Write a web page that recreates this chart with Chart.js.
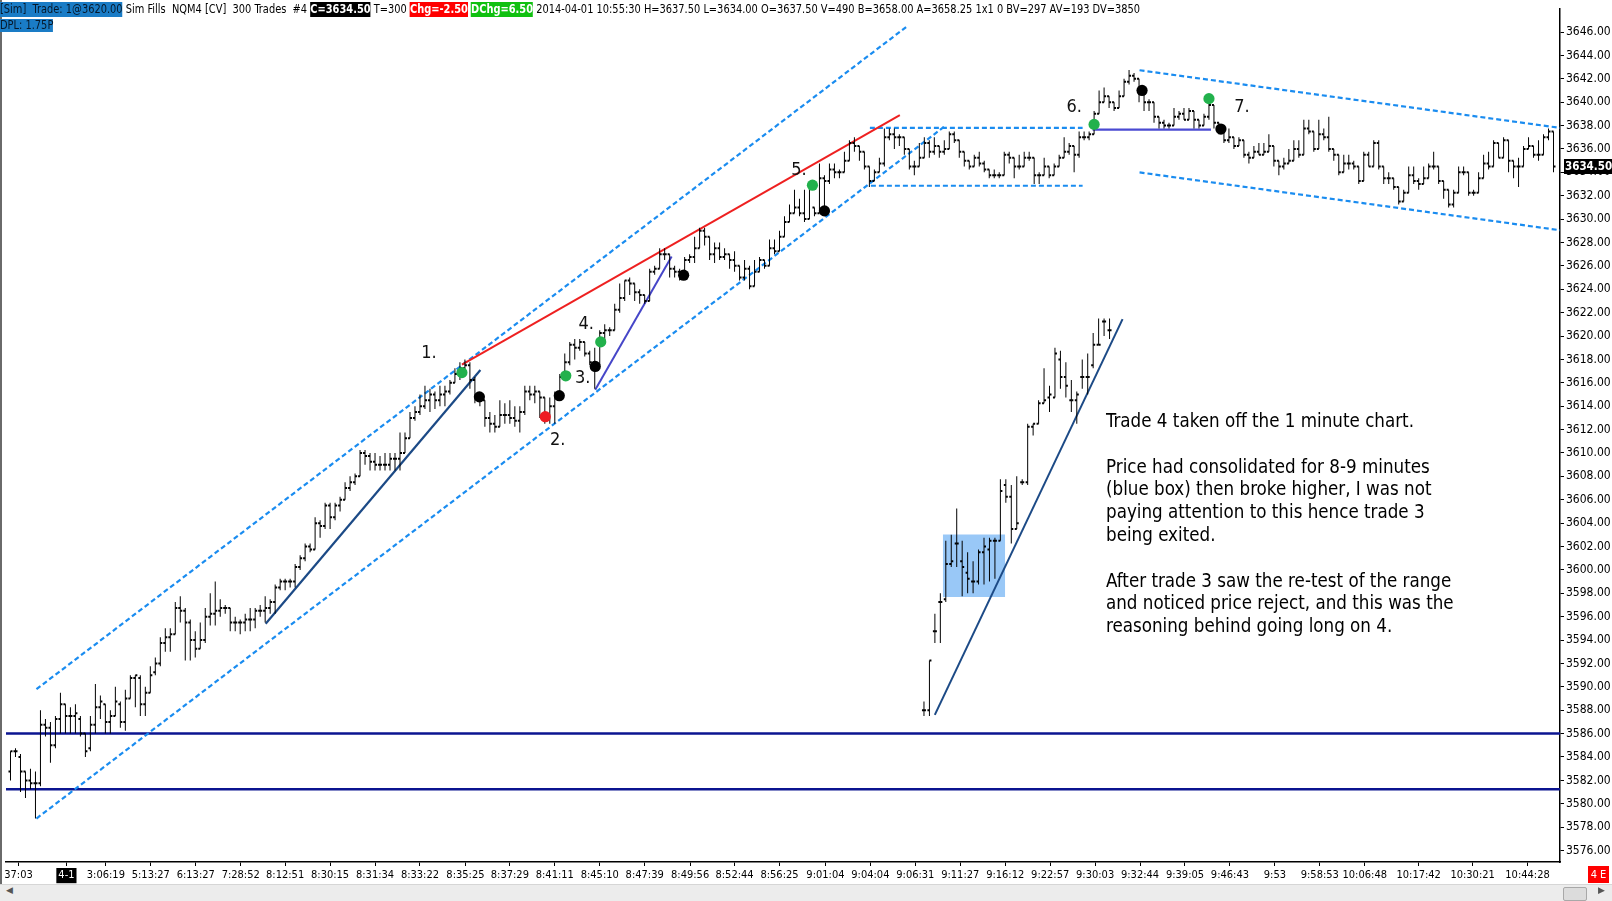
<!DOCTYPE html>
<html><head><meta charset="utf-8">
<script src="https://cdn.jsdelivr.net/npm/chart.js@4.4.1/dist/chart.umd.min.js"></script>
<style>
html,body{margin:0;padding:0;background:#fff;overflow:hidden}
#wrap{position:relative;width:1612px;height:901px;background:#fff}
#c{position:absolute;left:0;top:0}
.hdr{position:absolute;left:0;white-space:pre;font-family:"DejaVu Sans Condensed","Liberation Sans Narrow","DejaVu Sans",sans-serif;font-size:12px;color:#000;transform-origin:0 0}
.hdr span{display:inline-block}
.bl{background:#1a7cc6;color:#06182a}
.bk{background:#000;color:#fff;font-weight:bold}
.rd{background:#ff0000;color:#fff;font-weight:bold}
.gn{background:#10c010;color:#fff;font-weight:bold}
#note{position:absolute;left:1106px;top:410px;white-space:pre;font-family:"DejaVu Sans Condensed","DejaVu Sans",sans-serif;font-size:17px;line-height:22.8px;color:#000}
#lborder{position:absolute;left:0;top:0;width:2px;height:884px;background:#6a6a6a}
#sbar{position:absolute;left:0;top:884px;width:1612px;height:17px;background:#ececec;border-top:1px solid #d6d6d6;box-sizing:border-box}
#thumb{position:absolute;left:1563px;top:2px;width:22px;height:12px;background:#dcdcdc;border:1px solid #a8a8a8;border-radius:2px}
.arr{position:absolute;top:0px;font-family:"DejaVu Sans",sans-serif;font-size:9px;color:#555}
#eb{position:absolute;left:1588px;top:866px;width:21px;height:17px;background:#ff0000;color:#fff;font-family:"DejaVu Sans Condensed","DejaVu Sans",sans-serif;font-size:11px;line-height:17px;text-align:center}
</style></head><body>
<div id="wrap">
<canvas id="c" width="1612" height="901"></canvas>
<div id="lborder"></div>
<div class="hdr" id="h1" style="top:2px;line-height:15px"><span class="bl">[Sim]  Trade: 1@3620.00</span> Sim Fills  NQM4 [CV]  300 Trades  #4 <span class="bk">C=3634.50</span> T=300 <span class="rd">Chg=-2.50</span> <span class="gn">DChg=6.50</span> 2014-04-01 10:55:30 H=3637.50 L=3634.00 O=3637.50 V=490 B=3658.00 A=3658.25 1x1 0 BV=297 AV=193 DV=3850</div>
<div class="hdr" id="h2" style="top:19px;line-height:13px"><span class="bl">DPL: 1.75P</span></div>
<div id="note">Trade 4 taken off the 1 minute chart.

Price had consolidated for 8-9 minutes
(blue box) then broke higher, I was not
paying attention to this hence trade 3
being exited.

After trade 3 saw the re-test of the range
and noticed price reject, and this was the
reasoning behind going long on 4.</div>
<div id="sbar"><span class="arr" style="left:6px">&#9664;</span><div id="thumb"></div><span class="arr" style="left:1598px">&#9654;</span></div>
<div id="eb">4 E</div>
</div>
<script>
// ---------- DATA ----------
const opens = [
3582.75,3584.5,3584,3582.75,3582,3581.75,3581.75,3586.75,3586.5,3585,
3587.25,3588.5,3587.5,3587.5,3587.25,3586,3584.75,3586.75,3588.25,3588.5,
3587,3587.5,3588.5,3587,3589,3590.75,3590.75,3588.5,3589.5,3591.25,
3592,3593.75,3594.25,3594.5,3596.75,3596.5,3595.5,3594,3593.25,3594,
3596,3596.25,3596.5,3596.75,3596.75,3595.5,3595.5,3595.5,3595.75,3595.75,
3596.5,3596.5,3596.75,3597.25,3598.5,3599,3599,3599,3600.25,3601,
3602,3601.75,3604,3603.75,3605.5,3604.5,3605.5,3606,3607,3607.5,
3608,3610,3609.75,3609.25,3609,3609,3609,3609.5,3609.5,3610,
3611.25,3613,3613.5,3614,3614.5,3615,3614.5,3615,3615.25,3616,
3616.75,3617.25,3617.5,3616.25,3614.75,3614.5,3613,3612.5,3612.25,3613.25,
3613.25,3613,3612.75,3613.5,3615.25,3615,3615.25,3614.75,3613,3614,
3615,3616.5,3617.75,3619.25,3619,3619.5,3618.5,3617.75,3617.5,3620.25,
3620.5,3620.5,3622.25,3623.25,3624.75,3624.5,3623.75,3623.5,3623,3625.5,
3625.75,3627,3627,3625.75,3625.5,3625.25,3626.5,3626.75,3627.5,3629,
3628.5,3627,3627.5,3626.75,3627,3626.5,3626,3625,3625.75,3624.25,
3625.5,3626.5,3626,3627.5,3627.25,3628.5,3629.75,3630.5,3631,3630.5,
3630,3631,3630.5,3633.5,3633.25,3634.25,3634,3634,3635,3636.5,
3636.25,3635.75,3634.5,3633.25,3634,3634.75,3637,3637.25,3637,3637,
3636,3634.5,3634.5,3635.25,3636.5,3635.75,3636.25,3635.75,3636,3637.25,
3636.75,3635.75,3635,3634.5,3635.25,3634.75,3634.25,3633.75,3633.75,3633.75,
3635.5,3635.25,3634.5,3634.5,3635.25,3635.25,3633.75,3633.75,3634.5,3633.75,
3634.5,3635.25,3635.75,3636.25,3635.5,3637,3637,3637.25,3639,3640,
3640.5,3640,3639.5,3640.5,3641.75,3642.25,3642,3641,3640,3640,
3638.75,3638.25,3638,3638,3638.75,3639,3638.5,3639.25,3638.5,3638,
3638.75,3639.75,3638.25,3637.75,3636.75,3637,3636.25,3636.75,3635.5,3635.25,
3635.75,3635.5,3635.75,3636.25,3635,3634.5,3634.75,3635,3636,3635.5,
3637.75,3637.5,3636,3637.25,3637,3636,3635.5,3634,3634.75,3634.75,
3634.5,3633.25,3635.5,3634.5,3636.5,3634.5,3633.5,3633.5,3632.75,3631.5,
3632.25,3633.75,3633.25,3633,3633.5,3634.5,3634.5,3633.25,3632.5,3631.25,
3632.25,3634,3634,3632.25,3632.25,3633.5,3634.75,3634.5,3636.5,3635.25,
3636.75,3635,3634.5,3634.5,3636,3636.25,3635.5,3635.5,3637,3637.5];
const highs = [
3584.5,3584.75,3584.25,3582.75,3583,3582.75,3588,3587.25,3587,3587.5,
3589.5,3588.5,3588.25,3588.5,3587.5,3586,3587.5,3590.25,3589.25,3588.5,
3588,3590,3588.75,3589.75,3591,3591,3591,3590,3591.75,3592.5,
3594.25,3595,3595,3597.25,3597.75,3596.75,3595.75,3594.75,3595.5,3596.75,
3598,3599,3597.5,3597,3596.75,3596,3595.75,3596.25,3596.75,3596.75,
3597,3597.75,3597.5,3598.75,3599.25,3599.25,3599.25,3600.5,3601.25,3602.25,
3602.25,3604.5,3604.25,3605.75,3605.75,3605.75,3606.25,3607.5,3608,3608.25,
3610.25,3610.25,3610,3610,3609.75,3610,3610,3610,3611.75,3611.75,
3613.5,3614,3615,3615.75,3615.5,3615.25,3615.75,3615.75,3616.25,3617.25,
3617.75,3618,3617.75,3616.5,3615,3614.5,3613.5,3613.25,3614.5,3614.25,
3614.5,3614,3614,3615.75,3615.75,3615.75,3615.25,3614.75,3614.75,3615.25,
3616.75,3618.5,3619.5,3619.75,3619.75,3619.5,3618.75,3619,3620.5,3621,
3620.75,3622.75,3624.5,3624.75,3625,3624.5,3624,3623.5,3625.75,3626,
3627.5,3627.5,3627,3626,3625.75,3626.75,3627,3628.5,3629.25,3629.25,
3628.5,3628,3628,3627.5,3627,3627.25,3626,3626.5,3626,3626.5,
3626.75,3626.5,3628.25,3628.25,3629,3630.25,3631.25,3632.5,3631.75,3632.5,
3633,3631,3634.75,3633.75,3634.75,3634.75,3634.25,3635.75,3636.75,3637,
3636.25,3635.75,3634.5,3634.25,3635.25,3637.75,3637.75,3637.75,3637.25,3637,
3636,3635,3636.5,3637,3636.75,3637,3636.25,3636.75,3637.5,3637.5,
3636.75,3635.75,3635,3635.5,3635.75,3635,3634.25,3634.25,3634,3635.75,
3635.75,3635.25,3635.5,3635.75,3635.75,3635.25,3634,3635.25,3634.5,3634.75,
3635.5,3637,3636.5,3636.25,3637.5,3637.5,3637.5,3639.25,3641,3641.25,
3640.5,3640,3641,3642,3642.75,3642.5,3642,3641,3640.25,3640,
3638.75,3638.5,3638.25,3639.5,3639.25,3639.5,3639.5,3639.25,3638.5,3639,
3640.25,3639.75,3638.25,3637.75,3637.75,3637,3637,3636.75,3635.75,3636.25,
3636.5,3636.5,3637.25,3636.25,3635,3635.25,3636,3636.75,3636.75,3638.5,
3638.5,3637.5,3638.5,3637.75,3638.75,3636,3635.5,3635.5,3635.5,3635,
3634.5,3635.75,3635.75,3636.75,3636.75,3634.5,3634,3633.5,3632.75,3632.5,
3634.5,3634.5,3633.5,3634.5,3634.75,3635.75,3634.5,3633.25,3632.5,3632.5,
3634.5,3634.5,3634,3632.5,3634,3635.5,3635.75,3636.75,3636.5,3637,
3636.75,3635,3635.25,3636.25,3637,3636.25,3636.75,3637.25,3637.75,3637.5];
const lows = [
3582,3584,3581,3580.5,3581.25,3578.75,3581.5,3585.75,3583.5,3584.75,
3586,3586,3586,3586,3585.75,3584,3584.5,3586,3587.25,3586,
3586,3587.5,3586.5,3586.25,3589,3588.25,3587.5,3587.5,3589.5,3591,
3591.75,3593,3593,3594.5,3595.5,3592.25,3592.25,3592.5,3593.25,3593.75,
3595.25,3595.25,3596,3596.25,3594.75,3594.75,3594.5,3594.75,3594.75,3595,
3596,3595.5,3596.25,3596.25,3598.25,3598.25,3598.5,3598.5,3600,3600.75,
3601.5,3601.75,3602.75,3603.5,3603.5,3604.25,3605,3606,3606.75,3607.25,
3608,3609,3608.5,3608.5,3608.5,3608.5,3608.5,3608.5,3608.5,3610,
3611.25,3612.75,3613.25,3613.75,3613.5,3613.75,3614,3614,3615,3616,
3616.25,3617,3615.5,3614.25,3614,3612.25,3611.75,3611.75,3612.25,3612.5,
3612.5,3612.25,3611.75,3613.25,3614.5,3614.25,3613,3612.5,3612.5,3612.5,
3614.5,3616.25,3617.5,3618,3618.75,3618.25,3617.5,3615.5,3617.5,3619.5,
3620,3620.5,3622,3623,3623.5,3623,3622.75,3622.75,3623,3625.25,
3625.75,3626.5,3625,3625,3624.75,3625,3626.25,3626.25,3627.5,3627.75,
3626.5,3626.25,3626.5,3626.5,3625.75,3625.5,3624.75,3624.75,3624,3624.25,
3625.5,3625.75,3626,3627,3627.25,3628.5,3629.75,3630.5,3630.25,3629.75,
3630,3630.25,3630.5,3630.75,3633,3633.5,3633.5,3634,3635,3635.75,
3635,3634.25,3632.75,3633.25,3634,3634.5,3636.75,3636,3636.25,3635.5,
3634.25,3633.75,3634.5,3635.25,3635.25,3635.5,3635.25,3635.5,3636,3636.5,
3635.25,3634.5,3634.25,3634.5,3634.5,3634,3633.5,3633.5,3633.5,3633.75,
3634.75,3633.5,3634.25,3634.5,3635,3633,3633,3633.75,3633.5,3633.75,
3634.5,3635.25,3635.5,3634,3635.25,3636.75,3636.75,3637.25,3639,3640,
3639.5,3639.25,3639.5,3640.5,3641.5,3641.75,3640,3639.25,3639.25,3638.25,
3637.75,3637.75,3637.75,3638,3638.5,3638.5,3638.5,3637.75,3637.75,3638,
3638.5,3637.75,3637.25,3636.5,3636.5,3636,3636.25,3635.25,3634.75,3635.25,
3635.5,3635.5,3635.75,3634.5,3633.75,3634.25,3634.75,3635,3635.25,3635.5,
3637.25,3635.75,3636,3636.75,3635.75,3635,3633.75,3634,3634.25,3634.25,
3633,3633.25,3634.5,3634.5,3634.25,3633,3633,3632.5,3631.25,3631.5,
3632.25,3633,3632.5,3633,3633.5,3634.25,3633,3631.75,3631,3631,
3632.25,3633.75,3632,3632,3632.25,3633.5,3634.25,3634.5,3635.25,3635.25,
3634,3633.5,3632.75,3634.5,3636,3635.25,3635,3635.5,3636.75,3634];
const closes = [
3584.5,3584.5,3582.75,3582,3581.75,3581.75,3586.75,3586.5,3585,3587.25,
3588.5,3587.5,3587.5,3587.75,3586,3584.5,3586.75,3588.25,3588.75,3587,
3587.5,3588.75,3587,3589,3590.75,3591,3588.5,3589.5,3591,3592,
3593.75,3594.25,3594.5,3596.75,3596.5,3595.5,3594,3593.25,3594,3596,
3596.25,3596.5,3596.75,3596.75,3595.5,3595.5,3595.5,3595.75,3595.75,3596.5,
3596.5,3596.75,3597.25,3598.5,3599,3599,3599,3600.25,3601,3602,
3601.75,3604,3603.75,3605.5,3604.5,3605.5,3606,3607,3607.5,3608,
3610,3609.75,3609.25,3609,3609,3609,3609.5,3609.5,3610,3611.25,
3613,3613.5,3614,3614.5,3615,3614.5,3615,3615.25,3616,3616.75,
3617.25,3617.5,3616.25,3614.75,3614.5,3613,3612.5,3612.25,3613.25,3613.25,
3613,3612.75,3613.5,3615.25,3615,3615.25,3614.75,3613,3614,3615,
3616.5,3617.75,3619.25,3619,3619.5,3618.5,3617.75,3617.5,3620.25,3620.5,
3620.5,3622.25,3623.25,3624.75,3624.5,3623.75,3623.5,3623,3625.5,3625.75,
3627,3627,3625.75,3625.5,3625.25,3626.5,3626.75,3627.5,3629,3628.5,
3627,3627.5,3626.75,3627,3626.5,3626,3625,3625.75,3624.25,3625.5,
3626.5,3626,3627.5,3627.25,3628.5,3629.75,3630.5,3631,3630.5,3630,
3632.75,3630.5,3633.5,3633.25,3634.25,3634,3634,3635,3636.5,3636.25,
3635.75,3634.5,3633.25,3634,3634.75,3637,3637.25,3637,3637,3636,
3634.5,3634.5,3635.25,3636.5,3635.75,3636.25,3635.75,3636,3637.25,3636.75,
3635.75,3635,3634.5,3635.25,3634.75,3634.25,3633.75,3633.75,3633.75,3635.5,
3635.25,3634.5,3634.5,3635.25,3635.25,3633.75,3633.75,3634.5,3633.75,3634.5,
3635.25,3635.75,3636.25,3635.5,3637,3637,3637.25,3639,3640,3640.5,
3640,3639.5,3640.5,3641.75,3642.25,3642,3641,3640,3640,3638.75,
3638.25,3638,3638,3638.75,3639,3638.5,3639.25,3638.5,3638,3638.75,
3639.75,3638.25,3637.75,3636.75,3637,3636.25,3636.75,3635.5,3635.25,3635.75,
3635.5,3635.75,3636.25,3635,3634.5,3634.75,3635,3636,3635.5,3637.75,
3637.5,3636,3637.25,3637,3636,3635.5,3634,3634.75,3634.75,3634.5,
3633.25,3635.5,3634.5,3636.5,3634.5,3633.5,3633.5,3632.75,3631.5,3632.25,
3633.75,3633.25,3633,3633.5,3634.5,3634.5,3633.25,3632.5,3631.25,3632.25,
3634,3634,3632.25,3632.25,3633.5,3634.75,3634.5,3636.5,3635.25,3636.75,
3635,3634.5,3634.5,3636,3636.25,3635.5,3635.5,3637,3637.5,3634.5];

// 1-minute chart inset (pasted onto the tick chart)
const insetOpen = [3588,3588,3594.75,3597.25,3597.5,3600.5,3602.25,3600.75,3599.75,3599,3599,3601.5,3601.75,3602.5,3602.5,3607.25,3606.25,3603.5,3607.5,3607.5,3612.25,3612.5,3614.25,3614.75,3614.75,3618,3616.5,3614.5,3614.5,3616.5,3616.5,3617.5,3619.25,3621.25,3620.5];
const insetHigh = [3588.75,3592.25,3596.25,3598,3602.5,3603,3605.25,3602.5,3601.5,3600.75,3601.75,3602.75,3602.75,3602.75,3607.75,3607.75,3607.25,3608,3607.75,3612.5,3612.5,3614.5,3617.25,3615.75,3619,3618.75,3617.75,3616.25,3615.25,3618,3618.5,3620.25,3621.5,3621.5,3621.5];
const insetLow = [3587.5,3587.5,3593.75,3593.75,3597.25,3600.25,3600.25,3597.75,3598,3598,3598.75,3598.75,3599,3599.25,3602.5,3605.75,3602.25,3603.5,3607.25,3607.25,3611.5,3612.5,3614.25,3613.5,3614.75,3615.5,3614.75,3613.5,3612.5,3615.5,3615,3617.25,3619.25,3620,3619.75];
const insetClose = [3588,3592.25,3594.75,3597.25,3600.5,3600.75,3602.25,3600.25,3599.25,3599,3601.5,3602,3602.5,3602.5,3606.75,3606.25,3603.5,3604,3607.5,3612.25,3612.5,3614.25,3614.5,3615,3618.5,3616.5,3615.75,3614.5,3615,3616.5,3616.5,3619.25,3619.25,3621.25,3620.5];

// axis tick labels
const tickLabels = ['37:03','4-1','3:06:19','5:13:27','6:13:27','7:28:52','8:12:51','8:30:15','8:31:34','8:33:22','8:35:25','8:37:29','8:41:11','8:45:10','8:47:39','8:49:56','8:52:44','8:56:25','9:01:04','9:04:04','9:06:31','9:11:27','9:16:12','9:22:57','9:30:03','9:32:44','9:39:05','9:46:43','9:53','9:58:53','10:06:48','10:17:42','10:30:21','10:44:28'];
const tickBars = [1.6,11.2,19.1,28.1,37.1,46.1,55,64,73,82,91.1,100,109,118,127,136.1,145,154,163.2,172.2,181.2,190.2,199.2,208.2,217.2,226.2,235.2,244.2,253.2,262.2,271.2,282,292.8,303.8];
const priceTicks = [3576,3578,3580,3582,3584,3586,3588,3590,3592,3594,3596,3598,3600,3602,3604,3606,3608,3610,3612,3614,3616,3618,3620,3622,3624,3626,3628,3630,3632,3634,3636,3638,3640,3642,3644,3646];

// fills (executions)
const fillBar = [90.4,93.9,107.1,109.9,111.2,117.1,118.2,134.8,160.6,163.0,217.0,226.6,240.0,242.4];
const fillPrice = [3616.87,3614.8,3613.1,3614.9,3616.6,3617.4,3619.5,3625.2,3632.9,3630.7,3638.1,3641.0,3640.3,3637.7];
const fillSide = ['buy','sell','stop','sell','buy','sell','buy','sell','buy','sell','buy','sell','buy','sell'];

// trade number labels
const markText = ['1.','2.','3.','4.','5.','6.','7.'];
const markBar = [83.8,109.6,114.6,115.3,157.9,213,246.6];
const markPrice = [3618.5,3611.06,3616.4,3620.96,3634.19,3639.59,3639.59];

// drawn lines (bar index, price)
const upChanBars = [5.2,179.5], upChanPrices = [3589.8,3646.47];
const loChanBars = [5.2,187.1], loChanPrices = [3578.74,3637.94];
const trend1Bars = [51.1,94.1], trend1Prices = [3595.4,3617.1];
const redBars = [90.4,178.1], redPrices = [3617.55,3638.9];
const purpleBars = [117.1,132.4], purplePrices = [3615.4,3626.8];
const rangeTopBars = [172.1,214.7], rangeTopPrices = [3637.8,3637.8];
const rangeBotBars = [172.3,214.7], rangeBotPrices = [3632.85,3632.85];
const levelBars = [216.7,240.4], levelPrices = [3637.65,3637.65];
const dnUpBars = [226.1,310.3], dnUpPrices = [3642.73,3637.8];
const dnLoBars = [226.1,310.3], dnLoPrices = [3633.99,3629.05];
const supportPrices = [3586,3581.25];
const insetTrendBars = [185.1,222.7], insetTrendPrices = [3587.6,3621.44];
const boxBars = [186.7,199.2], boxPrices = [3597.69,3603.02];

// ---------- LAYOUT CONSTANTS ----------
const X_MIN = -0.9, X_MAX = 310.3;
const INSET_START = 182.93, INSET_STEP = 1.093;
const CONDENSED = '"DejaVu Sans Condensed","Liberation Sans Narrow","DejaVu Sans",sans-serif';

// fit note text width and header width
(function(){
  const c = document.createElement('canvas').getContext('2d');
  c.font = '100px "DejaVu Sans Condensed","DejaVu Sans",sans-serif';
  const w = c.measureText('and noticed price reject, and this was the').width;
  document.getElementById('note').style.fontSize = (100*348/w).toFixed(2)+'px';
  const h1 = document.getElementById('h1');
  const s = 1140 / h1.getBoundingClientRect().width;
  h1.style.transform = 'scaleX('+s.toFixed(4)+')';
  document.getElementById('h2').style.transform = 'scaleX('+s.toFixed(4)+')';
})();

const pts = (xs, ys) => xs.map((x,k)=>({x:x, y:ys[k]}));
function lineDs(xs, ys, color, width, dash, order){
  return {type:'line', data:pts(xs,ys), borderColor:color, borderWidth:width, borderDash:dash||[], pointRadius:0, fill:false, tension:0, order:order||30, clip:false};
}
const DASH_BLUE = '#1a8cf0';

const datasets = [
  {type:'line', data:pts(boxBars,[boxPrices[0],boxPrices[0]]), borderWidth:0, pointRadius:0, fill:'+1', backgroundColor:'#99c8f7', order:100},
  {type:'line', data:pts(boxBars,[boxPrices[1],boxPrices[1]]), borderWidth:0, pointRadius:0, fill:false, order:100},
  lineDs([X_MIN,X_MAX],[supportPrices[0],supportPrices[0]],'#0b1490',2.5,null,50),
  lineDs([X_MIN,X_MAX],[supportPrices[1],supportPrices[1]],'#0b1490',2.5,null,50),
  lineDs(upChanBars, upChanPrices, DASH_BLUE, 2.2, [5,3], 40),
  lineDs(loChanBars, loChanPrices, DASH_BLUE, 2.2, [5,3], 40),
  lineDs(rangeTopBars, rangeTopPrices, DASH_BLUE, 2.2, [5,3], 40),
  lineDs(rangeBotBars, rangeBotPrices, DASH_BLUE, 2.2, [5,3], 40),
  lineDs(dnUpBars, dnUpPrices, DASH_BLUE, 2.2, [5,3], 40),
  lineDs(dnLoBars, dnLoPrices, DASH_BLUE, 2.2, [5,3], 40),
  lineDs(trend1Bars, trend1Prices, '#1c4a86', 2.2, null, 35),
  lineDs(insetTrendBars, insetTrendPrices, '#1c4a86', 2, null, 35),
  lineDs(redBars, redPrices, '#ee2020', 2, null, 35),
  lineDs(purpleBars, purplePrices, '#4646c8', 2, null, 35),
  lineDs(levelBars, levelPrices, '#4a4ad2', 2.2, null, 35),
  {type:'bar', data:highs.map((h,i)=>({x:i, y:[lows[i],h]})), backgroundColor:'#000', barThickness:1, grouped:false, borderWidth:0, inflateAmount:0, order:10},
  {type:'scatter', data:opens.map((o,i)=>({x:i,y:o})), pointStyle:'dash', pointRadius:2, pointRotation:180, pointBorderWidth:2, pointBorderColor:'#000', pointBackgroundColor:'#000', order:9},
  {type:'scatter', data:closes.map((c,i)=>({x:i,y:c})), pointStyle:'dash', pointRadius:2, pointRotation:0, pointBorderWidth:2, pointBorderColor:'#000', pointBackgroundColor:'#000', order:9},
  {type:'bar', data:insetHigh.map((h,k)=>({x:INSET_START+k*INSET_STEP, y:[insetLow[k],h]})), backgroundColor:'#000', barThickness:1, grouped:false, borderWidth:0, inflateAmount:0, order:10},
  {type:'scatter', data:insetOpen.map((o,k)=>({x:INSET_START+k*INSET_STEP,y:o})), pointStyle:'dash', pointRadius:2, pointRotation:180, pointBorderWidth:2, pointBorderColor:'#000', order:9},
  {type:'scatter', data:insetClose.map((c,k)=>({x:INSET_START+k*INSET_STEP,y:c})), pointStyle:'dash', pointRadius:2, pointRotation:0, pointBorderWidth:2, pointBorderColor:'#000', order:9},
  {type:'scatter', data:pts(fillBar, fillPrice), pointStyle:'circle', pointRadius:5.6, pointBorderWidth:0,
    pointBackgroundColor: fillSide.map(s => s==='buy' ? '#22b14c' : (s==='stop' ? '#ee1c24' : '#000')), order:1, clip:false}
];

const annot = {
  id:'annot',
  afterDatasetsDraw(chart){
    const {ctx, scales:{x,y}} = chart;
    ctx.save();
    ctx.font = '18px "DejaVu Sans Condensed","DejaVu Sans",sans-serif';
    ctx.fillStyle = '#111'; ctx.textAlign='center'; ctx.textBaseline='middle';
    markText.forEach((t,k)=>ctx.fillText(t, x.getPixelForValue(markBar[k]), y.getPixelForValue(markPrice[k])));
    ctx.restore();
  },
  afterDraw(chart){
    const {ctx, scales:{y}, chartArea} = chart;
    const last = closes[closes.length-1];
    const py = Math.round(y.getPixelForValue(last));
    ctx.save();
    ctx.fillStyle='#000';
    ctx.fillRect(chartArea.right+4, py-7, 1612-chartArea.right-4, 15);
    ctx.fillStyle='#fff'; ctx.font='bold 11.5px '+CONDENSED; ctx.textAlign='left'; ctx.textBaseline='middle';
    ctx.fillText(last.toFixed(2), chartArea.right+5, py+1);
    ctx.restore();
  }
};

new Chart(document.getElementById('c'), {
  type:'bar',
  data:{datasets},
  options:{
    responsive:false, animation:false, devicePixelRatio:1,
    layout:{padding:{left:4,top:0,right:0,bottom:0}},
    plugins:{legend:{display:false}, tooltip:{enabled:false}},
    scales:{
      x:{type:'linear', min:X_MIN, max:X_MAX, offset:false,
        afterFit(s){ s.height = 39; },
        afterBuildTicks(s){ s.ticks = tickBars.map(v=>({value:v})); },
        ticks:{autoSkip:false, maxRotation:0, minRotation:0, padding:3,
          callback:(v,i)=>tickLabels[i],
          font:{family:CONDENSED, size:11},
          color:(c)=> c.index===1 ? '#fff' : '#000',
          showLabelBackdrop:(c)=> c.index===1, backdropColor:'#000', backdropPadding:{x:2,y:1}},
        grid:{drawOnChartArea:false, offset:false, tickLength:4, color:'#000', tickWidth:1},
        border:{color:'#000', width:1.5}},
      y:{type:'linear', position:'right', min:3575.02, max:3647.95,
        afterFit(s){ s.width = 52; },
        afterBuildTicks(s){ s.ticks = priceTicks.map(v=>({value:v})); },
        ticks:{callback:v=>Number(v).toFixed(2), padding:2, font:{family:CONDENSED, size:12}, color:'#000'},
        grid:{drawOnChartArea:false, tickLength:4, color:'#000'},
        border:{color:'#000', width:1.5}}
    }
  },
  plugins:[annot]
});
</script>
</body></html>
